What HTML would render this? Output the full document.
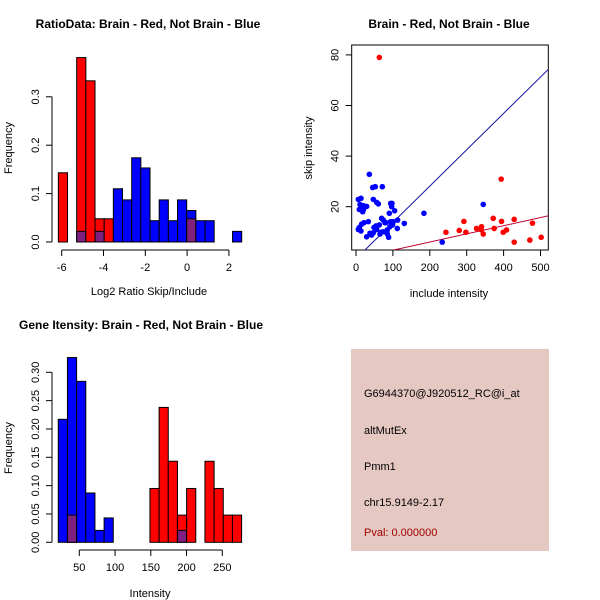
<!DOCTYPE html>
<html><head><meta charset="utf-8"><style>
body{margin:0;background:#fff}
svg{display:block;font-family:"Liberation Sans",sans-serif}
</style></head><body>
<svg id="c" width="600" height="600" xmlns="http://www.w3.org/2000/svg">
<rect width="600" height="600" fill="#fff"/>
<g>
<rect x="351" y="349" width="198" height="202" fill="#e5c8c2"/>
<text x="364" y="397" font-size="11">G6944370@J920512_RC@i_at</text>
<text x="364" y="434" font-size="11">altMutEx</text>
<text x="364" y="470" font-size="11">Pmm1</text>
<text x="364" y="506" font-size="11">chr15.9149-2.17</text>
<text x="364" y="536" font-size="11" fill="#a00000">Pval: 0.000000</text>
</g>
</svg>
<script>
// ---- Ratio histogram data ----
const ratioBinStart = -6.16;
const ratioBinWidth = 0.4386;
const ratioRed  = [0.143,0,0.381,0.333,0.048,0.048,0,0,0,0,0,0,0,0,0.048,0,0,0,0,0];
const ratioBlue = [0,0,0.022,0,0.022,0,0.11,0.087,0.174,0.153,0.044,0.087,0.044,0.087,0.065,0.044,0.044,0,0,0.022];
const ratioXTicks = [-6,-4,-2,0,2];
const ratioYTicks = [0,0.1,0.2,0.3];
const ratioYLabels = ["0.0","0.1","0.2","0.3"];
// ---- Intensity histogram data ----
const intBinStart = 20.6;
const intBinWidth = 12.82;
const intRed  = [0,0.048,0,0,0,0,0,0,0,0,0.095,0.238,0.143,0.048,0.095,0,0.143,0.095,0.048,0.048];
const intBlue = [0.217,0.326,0.284,0.087,0.021,0.043,0,0,0,0,0,0,0,0.021,0,0,0,0,0,0];
const intXTicks = [50,100,150,200,250];
const intYTicks = [0,0.05,0.10,0.15,0.20,0.25,0.30];
const intYLabels = ["0.00","0.05","0.10","0.15","0.20","0.25","0.30"];
// ---- Scatter data ----
const blueX = [6.3,13.5,10.8,15.3,19.9,28.9,19.9,9.0,18.1,9.0,6.3,15.3,21.7,13.5,33.4,28.9,42.4,37.9,46.9,48.7,56.0,63.2,69.5,74.0,78.5,65.0,74.0,84.8,88.4,84.8,92.1,93.9,99.3,90.3,96.6,36.1,45.1,52.3,46.9,56.0,60.5,71.3,93.9,97.5,54.2,67.7,81.2,101.1,104.7,112.8,130.9,111.9,184.1,233.7,344.8];
const blueY = [22.9,23.3,20.9,20.0,20.4,20.1,18.7,18.9,18.0,11.8,11.0,13.1,13.7,10.4,14.1,8.1,8.8,9.5,9.7,11.8,11.0,12.8,15.4,14.7,13.7,9.2,10.1,10.8,7.9,9.2,12.1,14.1,12.8,17.4,20.0,32.8,27.6,27.9,22.9,21.7,21.1,27.9,21.3,21.3,12.4,9.9,13.7,14.1,18.4,14.7,13.4,11.4,17.4,6.0,20.9];
const redX = [63.2,393.5,243.7,279.8,292.4,297.8,326.7,340.2,339.3,344.8,371.8,374.5,394.4,398.9,407.9,428.7,428.7,478.3,471.1,501.8];
const redY = [79.0,30.9,9.9,10.6,14.2,9.9,11.4,12.1,10.9,9.2,15.4,11.4,14.2,9.9,10.8,15.0,6.0,13.5,6.8,7.9];
const blueFit = [-0.6,0.1437];
const redFit = [-0.42,0.0323];
const scXTicks = [0,100,200,300,400,500];
const scYTicks = [20,40,60,80];

const NS="http://www.w3.org/2000/svg";
const svg=document.getElementById('c');
function mk(tag,attrs,parent){const e=document.createElementNS(NS,tag);for(const k in attrs)e.setAttribute(k,attrs[k]);(parent||svg).appendChild(e);return e;}
function txt(s,x,y,size,extra,parent){const t=mk('text',Object.assign({x:x,y:y,'font-size':size,'text-anchor':'middle'},extra||{}),parent);t.textContent=s;return t;}

function hist(o){
  const g=mk('g',{});
  
  
  const sx=v=>o.x0+(v-o.xv0)*o.xs, sy=v=>o.y0-v*o.ys;
  for(let i=0;i<o.red.length;i++){
    const a=o.start+i*o.w, b=a+o.w;
    const r=o.red[i], bl=o.blue[i], m=Math.min(r,bl), mx=Math.max(r,bl);
    if(mx<=0)continue;
    const col=r>bl?'#ff0000':'#0000ff';
    const e=mk('rect',{x:sx(a),y:sy(mx),width:sx(b)-sx(a),height:sy(0)-sy(mx),fill:col,stroke:'#000','stroke-width':1},g);
    
    
    if(m>0){
      const p=mk('rect',{x:sx(a),y:sy(m),width:sx(b)-sx(a),height:sy(0)-sy(m),fill:'#7f1f80',stroke:'#000','stroke-width':1},g);
      
      
    }
  }
  const ya=mk('g',{},g);
  
  
  const ax=o.yaxX;
  mk('line',{x1:ax,x2:ax,y1:sy(o.yt[0]),y2:sy(o.yt[o.yt.length-1]),stroke:'#000'},ya);
  o.yt.forEach((v,i)=>{mk('line',{x1:ax-6,x2:ax,y1:sy(v),y2:sy(v),stroke:'#000'},ya);
    const y=sy(v); txt(o.yl[i],ax-13,y,11,{transform:`rotate(-90 ${ax-13} ${y})`},ya);});
  const xa=mk('g',{},g);
  
  
  const ay=o.xaxY;
  mk('line',{x1:sx(o.xt[0]),x2:sx(o.xt[o.xt.length-1]),y1:ay,y2:ay,stroke:'#000'},xa);
  o.xt.forEach(v=>{mk('line',{x1:sx(v),x2:sx(v),y1:ay,y2:ay+6,stroke:'#000'},xa);txt(String(v),sx(v),ay+21,11,{},xa);});
  txt(o.xlab,o.xlabX,o.xlabY,11,{},g);
  const yt=txt('Frequency',12,o.ylabY,11,{transform:`rotate(-90 12 ${o.ylabY})`},g);
  
  const tt=txt(o.title,o.tX,o.tY,12,{'font-weight':'bold'},g);
  
}
hist({name:'ratio-histogram',red:ratioRed,blue:ratioBlue,start:ratioBinStart,w:ratioBinWidth,
  x0:61.7,xv0:-6,xs:20.9,y0:242,ys:484,yt:ratioYTicks,yl:ratioYLabels,xt:ratioXTicks,yaxX:52,xaxY:250,
  xlab:'Log2 Ratio Skip/Include',xlabX:149,xlabY:295,ylabY:148,title:'RatioData: Brain - Red, Not Brain - Blue',tX:148,tY:28});
hist({name:'intensity-histogram',red:intRed,blue:intBlue,start:intBinStart,w:intBinWidth,
  x0:79.3,xv0:50,xs:0.715,y0:542.3,ys:566.7,yt:intYTicks,yl:intYLabels,xt:intXTicks,yaxX:52,xaxY:550,
  xlab:'Intensity',xlabX:150,xlabY:597,ylabY:448,title:'Gene Itensity: Brain - Red, Not Brain - Blue',tX:141,tY:329});

(function(){
  const g=mk('g',{});
  
  
  const L=351.7,R=548.3,T=45,B=250;
  const sx=v=>356+v*0.369, sy=v=>206.7-(v-20)*2.53;
  mk('defs',{},g).innerHTML='<clipPath id="cp"><rect x="'+L+'" y="'+T+'" width="'+(R-L)+'" height="'+(B-T)+'"/></clipPath>';
  mk('rect',{x:L,y:T,width:R-L,height:B-T,fill:'none',stroke:'#000'},g);
  const xa=mk('g',{},g);
  scXTicks.forEach(v=>{mk('line',{x1:sx(v),x2:sx(v),y1:B,y2:B+6,stroke:'#000'},xa);txt(String(v),sx(v),B+21,11,{},xa);});
  const ya=mk('g',{},g);
  scYTicks.forEach(v=>{const y=sy(v);mk('line',{x1:L-6,x2:L,y1:y,y2:y,stroke:'#000'},ya);txt(String(v),L-13,y,11,{transform:`rotate(-90 ${L-13} ${y})`},ya);});
  const cg=mk('g',{'clip-path':'url(#cp)'},g);
  const fits=[[blueFit,'#1010a0','blue-fit-line'],[redFit,'#c00030','red-fit-line']];
  fits.forEach(f=>{const l=mk('line',{x1:sx(0),y1:sy(f[0][0]),x2:sx(600),y2:sy(f[0][0]+f[0][1]*600),stroke:f[1],'stroke-width':1},cg);
    });
  blueX.forEach((x,i)=>{const c=mk('circle',{cx:sx(x),cy:sy(blueY[i]),r:2.8,fill:'#0000ff'},cg);
    });
  redX.forEach((x,i)=>{const c=mk('circle',{cx:sx(x),cy:sy(redY[i]),r:2.8,fill:'#ff0000'},cg);
    });
  txt('include intensity',449,297,11,{},g);
  txt('skip intensity',312,148,11,{transform:'rotate(-90 312 148)'},g);
  txt('Brain - Red, Not Brain - Blue',449,28,12,{'font-weight':'bold'},g);
})();
</script>
</body></html>
